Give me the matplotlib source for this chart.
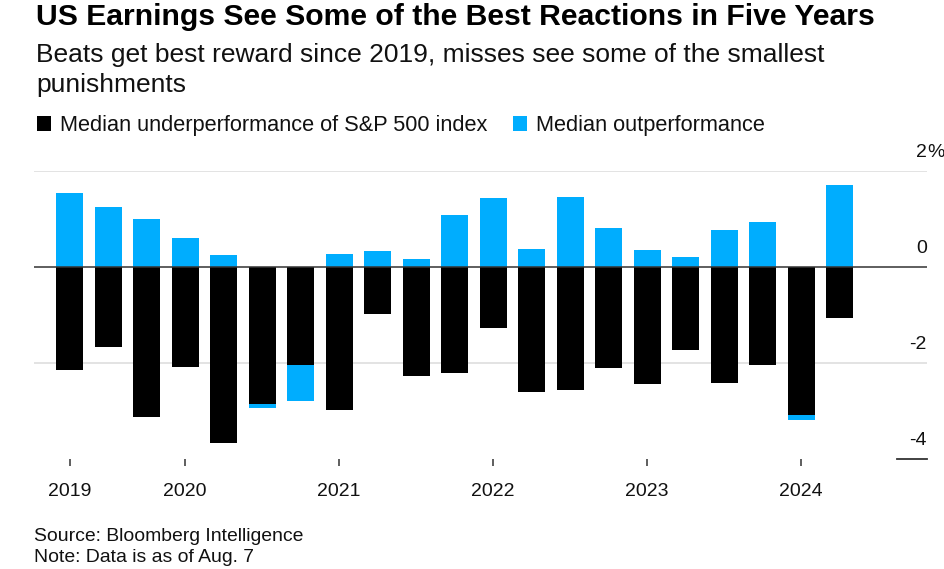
import matplotlib
matplotlib.use("Agg")
import matplotlib.pyplot as plt
import matplotlib.transforms as mtransforms
import numpy as np

# ---------------- data ----------------
under = [-2.14, -1.66, -3.11, -2.08, -3.66, -2.85, -2.03, -2.97, -0.97, -2.27, -2.20,
         -1.27, -2.60, -2.55, -2.09, -2.43, -1.72, -2.42, -2.04, -3.08, -1.06]
outp = [1.54, 1.25, 1.01, 0.60, 0.26, -2.93, -2.78, 0.28, 0.34, 0.17, 1.09,
        1.43, 0.38, 1.45, 0.82, 0.35, 0.22, 0.77, 0.94, -3.19, 1.71]
year_pos = [0, 3, 7, 11, 15, 19]
year_labels = ["2019", "2020", "2021", "2022", "2023", "2024"]
ytick_vals = [2, 0, -2, -4]
ytick_labels = ["2", "0", "-2", "-4"]

title = "US Earnings See Some of the Best Reactions in Five Years"
subtitle1 = "Beats get best reward since 2019, misses see some of the smallest"
subtitle2 = "punishments"
leg1 = "Median underperformance of S&P 500 index"
leg2 = "Median outperformance"
source = "Source: Bloomberg Intelligence"
note = "Note: Data is as of Aug. 7"

BLACK = "#000000"
BLUE = "#00adfe"
GRID = "#e0e0e0"
AXIS = "#333333"
TXT = "#111111"

W, H = 945, 569
plt.rcParams['font.family'] = ['Liberation Sans', 'DejaVu Sans']
fig = plt.figure(figsize=(W / 100, H / 100), dpi=100)
renderer = fig.canvas.get_renderer()


def fx(x):
    return x / W


def fy(y):
    return 1 - y / H


def fit(x, y, s, width_px, size0=14, **kw):
    t = fig.text(fx(x), fy(y), s, fontsize=size0, va='baseline', ha='left', **kw)
    bb = t.get_window_extent(renderer)
    t.set_fontsize(size0 * width_px / bb.width)
    return t


# ---------------- axes ----------------
ax_left, ax_right = 34, 927
y_top_val, y_bot_val = 2, -4
y_top_px, y_bot_px = 171, 459.3
ax = fig.add_axes([fx(ax_left), fy(y_bot_px), (ax_right - ax_left) / W, (y_bot_px - y_top_px) / H])
x = np.arange(len(under))
spacing = 38.5
ax.set_xlim(-(69.7 - ax_left) / spacing, (ax_right - 69.7) / spacing)
ax.set_ylim(y_bot_val, y_top_val)

ax.bar(x, outp, width=0.70, color=BLUE, zorder=2, linewidth=0)
ax.bar(x, under, width=0.70, color=BLACK, zorder=3, linewidth=0)

for v in [2, -2]:
    ax.axhline(v, color=GRID, lw=1.3, zorder=1)
ax.axhline(0, color=AXIS, lw=1.1, zorder=4)
btrans = mtransforms.blended_transform_factory(ax.transAxes, ax.transData)
ax.plot([(897 - ax_left) / (ax_right - ax_left), 1.0], [-4, -4], color=AXIS, lw=1.3,
        transform=btrans, clip_on=False, zorder=4)

for s in ax.spines.values():
    s.set_visible(False)
ax.set_yticks([])
ax.set_xticks(year_pos)
ax.set_xticklabels([])
ax.tick_params(axis='x', length=5, width=1.1, color=AXIS)
ax.patch.set_alpha(0)

# year labels with baseline at y=496 px
ybase = -(496 - y_bot_px) / (y_bot_px - y_top_px)
for p, lab in zip(year_pos, year_labels):
    ax.text(p, ybase, lab, transform=ax.get_xaxis_transform(), ha='center', va='baseline',
            fontsize=14, color=TXT, clip_on=False)

# y labels on the right, above gridlines
off = mtransforms.offset_copy(btrans, fig=fig, y=14.3, units='dots')
for v, lab in zip(ytick_vals, ytick_labels):
    ax.text(1.0, v, lab, transform=off, ha='right', va='baseline', fontsize=14,
            color=TXT, clip_on=False)
ax.text(1.0, 2, "%", transform=off, ha='left', va='baseline', fontsize=14,
        color=TXT, clip_on=False)

# ---------------- texts ----------------
fit(36, 25, title, 840, 20, fontweight='bold', color="#000000")
t1 = fit(36, 61.7, subtitle1, 787, 16, color=TXT)
fig.text(fx(36), fy(91.7), subtitle2, fontsize=t1.get_fontsize(), va='baseline', ha='left', color=TXT)

# legend
sq = 14
fig.patches.append(plt.Rectangle((fx(37), fy(130.5)), sq / W, sq / H, transform=fig.transFigure,
                                 facecolor=BLACK, edgecolor='none'))
l1 = fit(60, 130.5, leg1, 433, 14, color=TXT)
fig.patches.append(plt.Rectangle((fx(513), fy(130.5)), sq / W, sq / H, transform=fig.transFigure,
                                 facecolor=BLUE, edgecolor='none'))
fig.text(fx(536), fy(130.5), leg2, fontsize=l1.get_fontsize(), va='baseline', ha='left', color=TXT)

s1 = fit(34, 540.7, source, 270, 12, color=TXT)
fig.text(fx(34), fy(561.7), note, fontsize=s1.get_fontsize(), va='baseline', ha='left', color=TXT)

fig.savefig("out.png", dpi=100)
